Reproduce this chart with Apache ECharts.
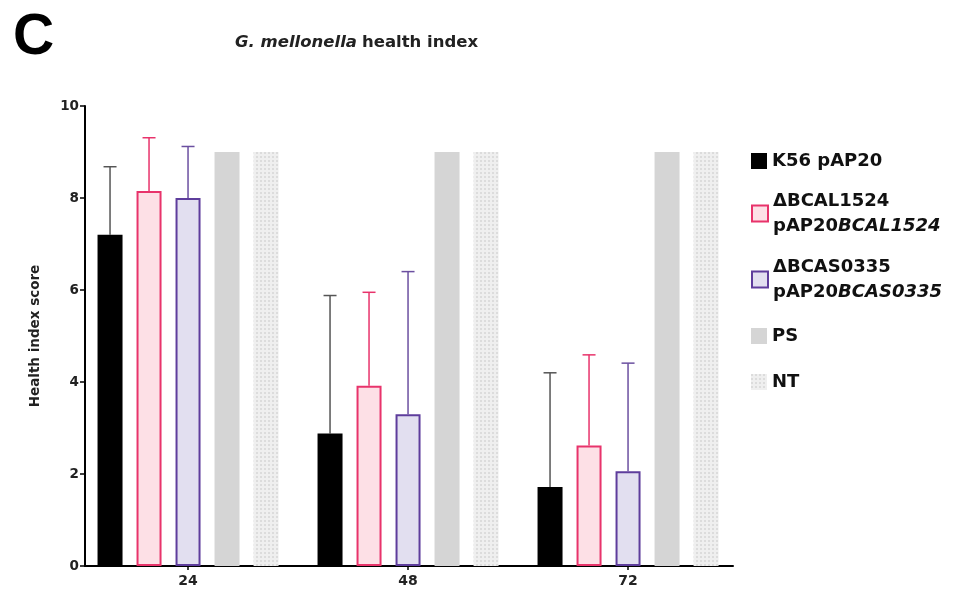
<!DOCTYPE html>
<html>
<head>
<meta charset="utf-8">
<script src="https://cdn.jsdelivr.net/npm/echarts@6/dist/echarts.min.js"></script>
<style>
  html, body { margin: 0; padding: 0; background: #fff; }
  #chart { width: 963px; height: 593px; }
</style>
</head>
<body>
<div id="chart"></div>
<script>
// Time points (hours post infection)
var timePoints = [24, 48, 72];
var yTicks = [0, 2, 4, 6, 8, 10];

// Mean health index score and SD per strain
var k56Mean = [7.2, 2.88, 1.72];
var k56Sd   = [1.48, 3.0, 2.48];
var bcalMean = [8.15, 3.92, 2.62];
var bcalSd   = [1.16, 2.03, 1.97];
var bcasMean = [8.0, 3.3, 2.06];
var bcasSd   = [1.12, 3.1, 2.35];
var psMean = [9, 9, 9];
var ntMean = [9, 9, 9];

var seriesNames = ['K56 pAP20', 'ΔBCAL1524 pAP20BCAL1524', 'ΔBCAS0335 pAP20BCAS0335', 'PS', 'NT'];

var FONT = 'DejaVu Sans';
var BAR_W = 25;
var BAR_STEP = 39;      // centre-to-centre distance of bars inside a group
var BAR_COUNT = 5;

function pairs(vals) {
  return vals.map(function (v, i) { return [timePoints[i], v]; });
}
function errData(mean, sd) {
  return mean.map(function (m, i) { return [timePoints[i], m, sd[i]]; });
}

// Upper-only SD whiskers, shifted to sit on the matching bar of the group
function errorSeries(name, mean, sd, slot, color) {
  return {
    type: 'custom',
    name: name + ' SD',
    data: errData(mean, sd),
    encode: { x: 0, y: [1, 2] },
    z: 1,
    silent: true,
    renderItem: function (params, api) {
      var x = api.value(0), m = api.value(1), s = api.value(2);
      var dx = (slot - (BAR_COUNT - 1) / 2) * BAR_STEP;
      var top = api.coord([x, m + s]);
      var base = api.coord([x, m]);
      var cx = top[0] + dx;
      var half = 6.5;
      var st = { stroke: color, lineWidth: 1.5 };
      return {
        type: 'group',
        children: [
          { type: 'line', shape: { x1: cx, y1: base[1], x2: cx, y2: top[1] }, style: st },
          { type: 'line', shape: { x1: cx - half, y1: top[1], x2: cx + half, y2: top[1] }, style: st }
        ]
      };
    }
  };
}

var legendLabels = {
  'K56 pAP20': '{b|K56 pAP20}',
  'ΔBCAL1524 pAP20BCAL1524': '{b|ΔBCAL1524}\n{b|pAP20}{i|BCAL1524}',
  'ΔBCAS0335 pAP20BCAS0335': '{b|ΔBCAS0335}\n{b|pAP20}{i|BCAS0335}',
  'PS': '{b|PS}',
  'NT': '{b|NT}'
};
var legendTops = [147, 187, 253, 322, 368];

var legendRich = {
  b: { fontFamily: FONT, fontWeight: 'bold', fontSize: 18, color: '#111', lineHeight: 25 },
  i: { fontFamily: FONT, fontWeight: 'bold', fontStyle: 'italic', fontSize: 18, color: '#111', lineHeight: 25 }
};

var legends = seriesNames.map(function (n, k) {
  return {
    data: [n],
    orient: 'vertical',
    left: 746,
    top: legendTops[k],
    icon: 'rect',
    itemWidth: 16,
    itemHeight: 16,
    itemGap: 5,
    selectedMode: false,
    formatter: function (name) { return legendLabels[name]; },
    textStyle: { rich: legendRich, padding: [0, 0, 0, 0] }
  };
});

var chart = echarts.init(document.getElementById('chart'), null, { renderer: 'canvas' });

chart.setOption({
  animation: false,
  backgroundColor: '#ffffff',
  title: [
    {
      text: 'C',
      left: 8,
      top: 5,
      textStyle: { fontFamily: 'Liberation Sans', fontWeight: 'bold', fontSize: 57, color: '#000' }
    },
    {
      text: '{i|G. mellonella} {b|health index}',
      left: 230,
      top: 29,
      textStyle: {
        rich: {
          i: { fontFamily: FONT, fontWeight: 'bold', fontStyle: 'italic', fontSize: 16.5, color: '#222' },
          b: { fontFamily: FONT, fontWeight: 'bold', fontSize: 16.5, color: '#222' }
        }
      }
    }
  ],
  legend: legends,
  grid: { left: 85, right: 230, top: 106, bottom: 27, containLabel: false },
  xAxis: {
    type: 'value',
    min: 12.76,
    max: 83.45,
    splitLine: { show: false },
    axisLine: { show: true, onZero: false, lineStyle: { color: '#000', width: 2 } },
    axisTick: { show: true, customValues: timePoints, length: 4, lineStyle: { color: '#000', width: 1.5 } },
    axisLabel: {
      customValues: timePoints,
      margin: 8,
      fontFamily: FONT, fontWeight: 'bold', fontSize: 14, color: '#222'
    }
  },
  yAxis: {
    type: 'value',
    min: 0,
    max: 10,
    interval: 2,
    name: 'Health index score',
    nameLocation: 'middle',
    nameGap: 43,
    nameTextStyle: { fontFamily: FONT, fontWeight: 'bold', fontSize: 13.5, color: '#222' },
    splitLine: { show: false },
    axisLine: { show: true, lineStyle: { color: '#000', width: 2 } },
    axisTick: { show: true, length: 5, lineStyle: { color: '#000', width: 1.5 } },
    axisLabel: {
      margin: 6,
      fontFamily: FONT, fontWeight: 'bold', fontSize: 13.5, color: '#222',
      formatter: function (v) { return yTicks.indexOf(v) >= 0 ? String(v) : ''; }
    }
  },
  series: [
    {
      name: seriesNames[0], type: 'bar', data: pairs(k56Mean),
      barWidth: BAR_W, barGap: '56%', z: 2,
      itemStyle: { color: '#000' }
    },
    {
      name: seriesNames[1], type: 'bar', data: pairs(bcalMean),
      barWidth: BAR_W, barGap: '56%', z: 2,
      itemStyle: { color: '#fde0e6', borderColor: '#e8336b', borderWidth: 2 }
    },
    {
      name: seriesNames[2], type: 'bar', data: pairs(bcasMean),
      barWidth: BAR_W, barGap: '56%', z: 2,
      itemStyle: { color: '#e2dff0', borderColor: '#5e3d9c', borderWidth: 2 }
    },
    {
      name: seriesNames[3], type: 'bar', data: pairs(psMean),
      barWidth: BAR_W, barGap: '56%', z: 2,
      itemStyle: { color: '#d5d5d5' }
    },
    {
      name: seriesNames[4], type: 'bar', data: pairs(ntMean),
      barWidth: BAR_W, barGap: '56%', z: 2,
      itemStyle: {
        color: '#efefef',
        decal: {
          symbol: 'rect', symbolSize: 1,
          dashArrayX: [1.5, 1.5], dashArrayY: [1.5, 1.5],
          color: 'rgba(0,0,0,0.08)', rotation: 0
        }
      }
    },
    errorSeries('K56 pAP20', k56Mean, k56Sd, 0, '#555555'),
    errorSeries('ΔBCAL1524 pAP20BCAL1524', bcalMean, bcalSd, 1, '#e8336b'),
    errorSeries('ΔBCAS0335 pAP20BCAS0335', bcasMean, bcasSd, 2, '#6b4fa0')
  ]
});
</script>
</body>
</html>
